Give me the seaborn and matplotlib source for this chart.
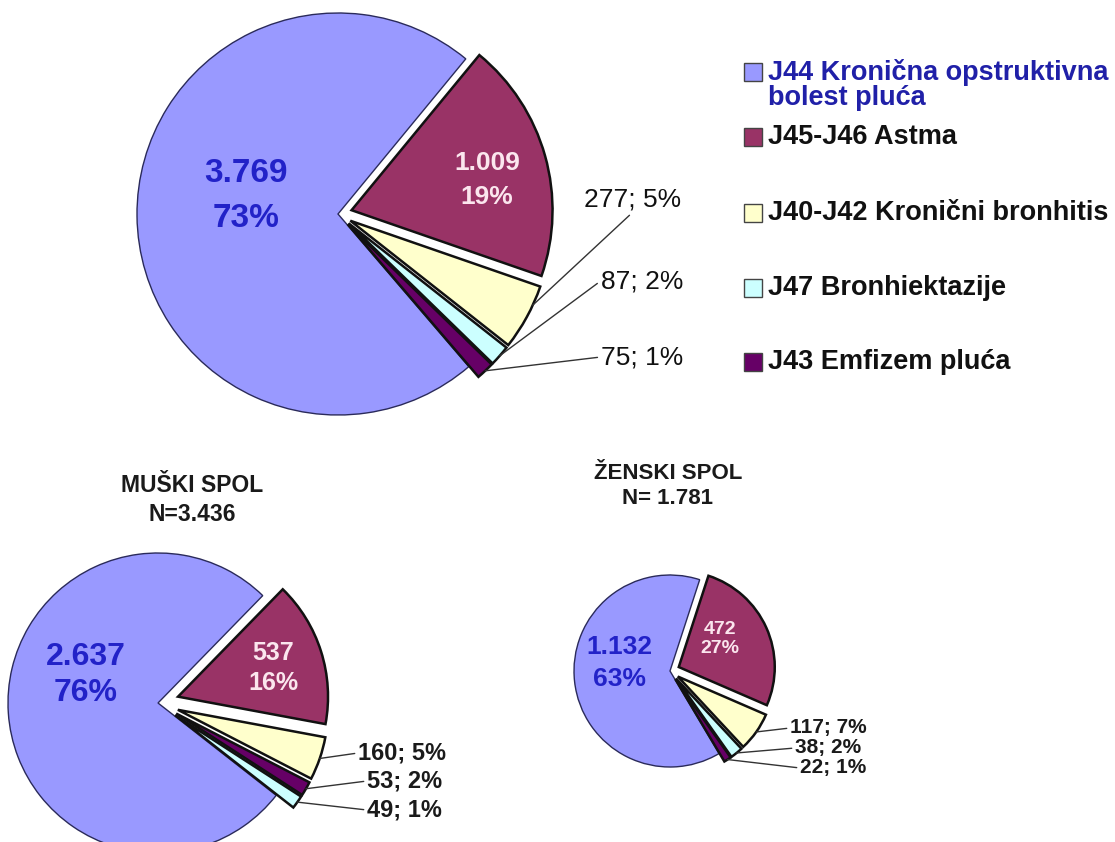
import numpy as np
import matplotlib
matplotlib.use("Agg")
import matplotlib.pyplot as plt
import seaborn as sns
from matplotlib.patches import Rectangle

# ---------------- data ----------------
categories = ["J44 Kronična opstruktivna\nbolest pluća", "J45-J46 Astma",
              "J40-J42 Kronični bronhitis", "J47 Bronhiektazije", "J43 Emfizem pluća"]
colors = ["#9999FF", "#993366", "#FFFFCC", "#CCFFFF", "#660066"]

total_values = [3769, 1009, 277, 87, 75]
total_pct = ["73%", "19%", "5%", "2%", "1%"]
male_values = [2637, 537, 160, 49, 53]
male_pct = ["76%", "16%", "5%", "1%", "2%"]
female_values = [1132, 472, 117, 38, 22]
female_pct = ["63%", "27%", "7%", "2%", "1%"]

male_title = "MUŠKI SPOL\nN=3.436"
female_title = "ŽENSKI SPOL\nN= 1.781"

# slice order (clockwise) in each pie, as category indices
total_order = [0, 1, 2, 3, 4]
male_order = [0, 1, 2, 4, 3]
female_order = [0, 1, 2, 3, 4]

# ---------------- style ----------------
sns.set_theme(style="white")
plt.rcParams["font.family"] = ["Liberation Sans", "DejaVu Sans"]

W, H = 1115, 842
fig = plt.figure(figsize=(W / 100, H / 100), dpi=100)
ax = fig.add_axes([0, 0, 1, 1])


def Y(y):
    return H - y


def fmt(v):
    return f"{v:,}".replace(",", ".")


def draw_pie(values, order, center, radius, start, expl):
    v = [values[i] for i in order]
    cols = [colors[i] for i in order]
    # explode offset is in data units -> scale by radius
    ex = [0 if i == 0 else expl * radius for i in order]
    wedges, _ = ax.pie(v, colors=cols, explode=ex, startangle=start,
                       counterclock=False, center=center, radius=radius,
                       frame=True,
                       wedgeprops=dict(edgecolor="#111111", linewidth=1.8))
    out = {}
    for i, w in zip(order, wedges):
        if i == 0:
            w.set_edgecolor("#2a2a5a")
            w.set_linewidth(1.0)
        out[i] = w
    return out


def arc_point(w, frac=0.5):
    t = np.deg2rad(w.theta2 - frac * (w.theta2 - w.theta1))
    cx, cy = w.center
    return cx + w.r * np.cos(t), cy + w.r * np.sin(t)


blue_txt = "#2222C8"
pink_txt = "#FBE6EE"

# ---------------- top pie (total) ----------------
wt = draw_pie(total_values, total_order, (338, Y(214)), 201, -49.4, 0.07)
ax.text(246, Y(196), f"{fmt(total_values[0])}\n{total_pct[0]}", color=blue_txt,
        fontsize=24, fontweight="bold", ha="center", va="center", linespacing=1.55)
ax.text(487, Y(180), f"{fmt(total_values[1])}\n{total_pct[1]}", color=pink_txt,
        fontsize=19, fontweight="bold", ha="center", va="center", linespacing=1.5)

top_lbl = {2: ((633, Y(200)), "center", (0.5, 0.0), 0.3),
           3: ((683, Y(281)), "right", (0.0, 0.5), 0.5),
           4: ((683, Y(357)), "right", (0.0, 0.5), 0.5)}
for i, (pos, ha, rel, fr) in top_lbl.items():
    ax.annotate(f"{total_values[i]}; {total_pct[i]}", xy=arc_point(wt[i], fr),
                xytext=pos, ha=ha, va="center", fontsize=19, color="#111111",
                arrowprops=dict(arrowstyle="-", color="#333333", lw=1.0,
                                shrinkA=0, shrinkB=0, relpos=rel))

# ---------------- male pie ----------------
wm = draw_pie(male_values, male_order, (158, Y(703)), 150, -38.0, 0.14)
ax.text(86, Y(675), f"{fmt(male_values[0])}\n{male_pct[0]}", color=blue_txt,
        fontsize=23, fontweight="bold", ha="center", va="center", linespacing=1.25)
ax.text(273, Y(668), f"{fmt(male_values[1])}\n{male_pct[1]}", color=pink_txt,
        fontsize=18, fontweight="bold", ha="center", va="center", linespacing=1.3)
ax.text(192, Y(500), male_title, color="#1a1a1a", fontsize=16.5, fontweight="bold",
        ha="center", va="center", linespacing=1.35)

male_lbl = {2: (358, Y(753)), 4: (367, Y(781)), 3: (367, Y(810))}
for i, pos in male_lbl.items():
    ax.annotate(f"{male_values[i]}; {male_pct[i]}", xy=arc_point(wm[i]),
                xytext=pos, ha="left", va="center", fontsize=17, fontweight="bold",
                color="#1a1a1a",
                arrowprops=dict(arrowstyle="-", color="#333333", lw=1.0,
                                shrinkA=0, shrinkB=0, relpos=(0.0, 0.5)))

# ---------------- female pie ----------------
wf = draw_pie(female_values, female_order, (670, Y(671)), 96, -59.2, 0.10)
ax.text(619, Y(663), f"{fmt(female_values[0])}\n{female_pct[0]}", color=blue_txt,
        fontsize=19, fontweight="bold", ha="center", va="center", linespacing=1.4)
ax.text(720, Y(639), f"{fmt(female_values[1])}\n{female_pct[1]}", color=pink_txt,
        fontsize=14, fontweight="bold", ha="center", va="center", linespacing=1.2)
ax.text(668, Y(486), female_title, color="#1a1a1a", fontsize=16, fontweight="bold",
        ha="center", va="center", linespacing=1.3)

female_lbl = {2: (790, Y(728)), 3: (795, Y(748)), 4: (800, Y(768))}
for i, pos in female_lbl.items():
    ax.annotate(f"{female_values[i]}; {female_pct[i]}", xy=arc_point(wf[i]),
                xytext=pos, ha="left", va="center", fontsize=15, fontweight="bold",
                color="#1a1a1a",
                arrowprops=dict(arrowstyle="-", color="#333333", lw=1.0,
                                shrinkA=0, shrinkB=0, relpos=(0.0, 0.5)))

# ---------------- legend ----------------
leg_rows = [72, 137, 213, 288, 362]
for i, (lab, yy) in enumerate(zip(categories, leg_rows)):
    ax.add_patch(Rectangle((744, Y(yy) - 9), 18, 18, facecolor=colors[i],
                           edgecolor="#444444", lw=1.0))
    if i == 0:
        ax.text(768, Y(yy) + 13, lab, ha="left", va="top", fontsize=19.5,
                fontweight="bold", color="#2020A8", linespacing=0.95)
    else:
        ax.text(768, Y(yy), lab, ha="left", va="center", fontsize=19.5,
                fontweight="bold", color="#111111")

ax.set_xlim(0, W)
ax.set_ylim(0, H)
ax.set_aspect("equal")
ax.axis("off")
fig.savefig("out.png", dpi=100, facecolor="white")
